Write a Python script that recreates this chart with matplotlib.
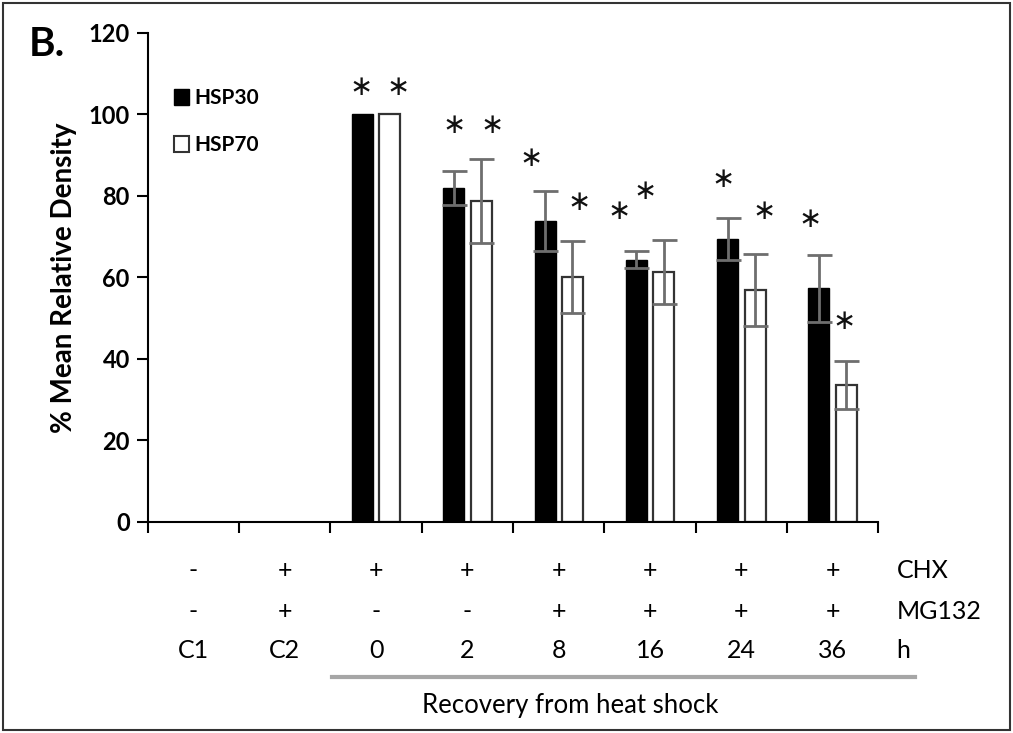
import numpy as np
import matplotlib.pyplot as plt
from matplotlib.patches import Patch, Rectangle
from matplotlib.lines import Line2D

# Data
hours      = ['C1', 'C2', '0', '2', '8', '16', '24', '36']
chx        = ['-', '+', '+', '+', '+', '+', '+', '+']
mg132      = ['-', '+', '-', '-', '+', '+', '+', '+']
hsp30      = [0, 0, 100, 82.0, 73.9, 64.4, 69.4, 57.3]
hsp30_err  = [0, 0, 0, 4.2, 7.4, 2.0, 5.2, 8.3]
hsp70      = [0, 0, 100, 78.8, 60.1, 61.4, 56.9, 33.6]
hsp70_err  = [0, 0, 0, 10.3, 8.8, 7.8, 8.9, 5.8]
star30_y   = [None, None, 106.8, 97.4, 89.2, 76.4, 84.1, 74.3]
star70_y   = [None, None, 106.8, 97.4, 78.4, 81.2, 76.4, 49.2]

plt.rcParams['font.family'] = ['Lato', 'DejaVu Sans']

fig = plt.figure(figsize=(10.13, 7.33), dpi=100)
ax = fig.add_axes([0.146, 0.288, 0.721, 0.667])

x = np.arange(len(hours))
w = 0.23
off = 0.15
# C1 and C2 have no bars drawn
ax.bar(x[2:] - off, hsp30[2:], w, color='black', edgecolor='black', linewidth=1)
ax.bar(x[2:] + off, hsp70[2:], w, color='white', edgecolor='#333333', linewidth=1.6)

ekw = dict(fmt='none', ecolor='#6e6e6e', elinewidth=2, capsize=9, capthick=2)
for i in range(len(hours)):
    if hsp30_err[i] > 0:
        ax.errorbar(x[i] - off, hsp30[i], yerr=hsp30_err[i], **ekw)
    if hsp70_err[i] > 0:
        ax.errorbar(x[i] + off, hsp70[i], yerr=hsp70_err[i], **ekw)

# asterisk x shifts (category units) relative to the bar centres
s30 = [0, 0, -0.02, 0.0, -0.15, -0.19, -0.05, -0.10]
s70 = [0, 0, 0.09, 0.12, 0.07, -0.20, 0.10, -0.02]
for i in range(len(hours)):
    if star30_y[i] is not None:
        ax.text(x[i] - off + s30[i], star30_y[i], '∗', ha='center', va='center',
                fontsize=20, family='DejaVu Sans', color='#111111')
    if star70_y[i] is not None:
        ax.text(x[i] + off + s70[i], star70_y[i], '∗', ha='center', va='center',
                fontsize=20, family='DejaVu Sans', color='#111111')

ax.set_xlim(-0.5, len(hours) - 0.5)
ax.set_ylim(0, 120)
ax.set_yticks(np.arange(0, 121, 20))
ax.set_xticks(np.arange(-0.5, len(hours), 1.0))
ax.set_xticklabels([])
ax.tick_params(axis='y', direction='out', length=8, width=1.5, labelsize=17, pad=5)
ax.tick_params(axis='x', direction='out', length=8, width=1.5)
for lab in ax.get_yticklabels():
    lab.set_fontweight('bold')
ax.spines['top'].set_visible(False)
ax.spines['right'].set_visible(False)
ax.spines['left'].set_linewidth(1.5)
ax.spines['bottom'].set_linewidth(1.5)
ax.set_ylabel('% Mean Relative Density', fontsize=20, fontweight='bold', labelpad=8)

handles = [Patch(facecolor='black', edgecolor='black'),
           Patch(facecolor='white', edgecolor='#333333', linewidth=1.5)]
ax.legend(handles, ['HSP30', 'HSP70'], loc='upper left', bbox_to_anchor=(0.01, 0.925),
          frameon=False, handlelength=0.7, handleheight=0.8, handletextpad=0.3,
          labelspacing=1.3, prop={'weight': 'bold', 'size': 15})

# treatment table under the axis
for i in range(len(hours)):
    ax.text(x[i], -12, chx[i], ha='center', va='center', fontsize=18, clip_on=False)
    ax.text(x[i], -22, mg132[i], ha='center', va='center', fontsize=18, clip_on=False)
    ax.text(x[i], -31.6, hours[i], ha='center', va='center', fontsize=18, clip_on=False)
for yy, lab in [(-12, 'CHX'), (-22, 'MG132'), (-31.6, 'h')]:
    ax.text(7.7, yy, lab, ha='left', va='center', fontsize=18, clip_on=False)

fig.add_artist(Line2D([332/1013, 915/1013], [1 - 677/733, 1 - 677/733],
                      color='#a6a6a6', linewidth=3))
fig.text(570/1013, 1 - 705/733, 'Recovery from heat shock', ha='center', va='center', fontsize=18.5)
fig.text(0.028, 1 - 44/733, 'B.', ha='left', va='center', fontsize=29, fontweight='bold')

fig.add_artist(Rectangle((0.003, 0.004), 0.994, 0.992, fill=False, edgecolor='#333333',
                         linewidth=1.5, transform=fig.transFigure))

fig.savefig('out.png', dpi=100)
